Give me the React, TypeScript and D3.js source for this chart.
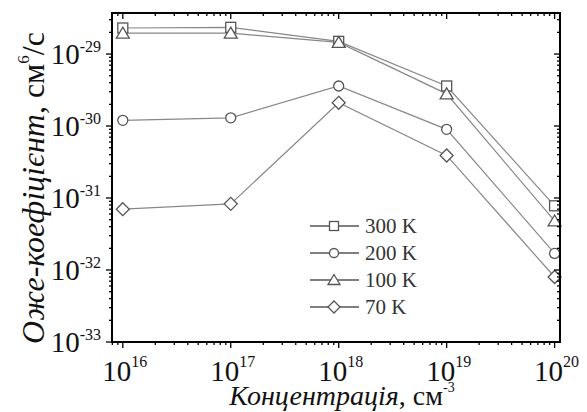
import React, { useEffect, useRef } from 'react';
import * as d3 from 'd3';

// concentration, cm^-3
const concentrations = [1e16, 1e17, 1e18, 1e19, 1e20];
// Auger coefficient, cm^6/s
const k300 = [2.3e-29, 2.35e-29, 1.5e-29, 3.6e-30, 7.8e-32];
const k200 = [1.2e-30, 1.3e-30, 3.6e-30, 9.0e-31, 1.7e-32];
const k100 = [1.95e-29, 1.95e-29, 1.45e-29, 2.8e-30, 4.8e-32];
const k70 = [7.0e-32, 8.3e-32, 2.1e-30, 3.9e-31, 8.0e-33];

const seriesNames = ['300 K', '200 K', '100 K', '70 K'];
const seriesMarks = ['square', 'circle', 'triangle', 'diamond'];
const xTickExp = [16, 17, 18, 19, 20];
const yTickExp = [-33, -32, -31, -30, -29];

const App = () => {
    const svgRef = useRef(null);

    useEffect(() => {
        const svg = d3.select(svgRef.current);
        svg.selectAll('*').remove();

        const left = 112, right = 560, top = 13, bottom = 342;
        const font = '"Liberation Serif", "Times New Roman", serif';

        const x = d3.scaleLog().domain([Math.pow(10, 15.9), Math.pow(10, 20.05)]).range([left, right]);
        const y = d3.scaleLog().domain([1e-33, Math.pow(10, -28.43)]).range([bottom, top]);

        const allSeries = [k300, k200, k100, k70];

        //draw a marker of the given kind
        const marker = (g, kind, cx, cy, s) => {
            let el;
            if (kind === 'square') {
                el = g.append('rect').attr('x', cx - s).attr('y', cy - s).attr('width', 2 * s).attr('height', 2 * s);
            } else if (kind === 'circle') {
                el = g.append('circle').attr('cx', cx).attr('cy', cy).attr('r', s);
            } else if (kind === 'triangle') {
                el = g.append('path').attr('d', `M${cx},${cy - s - 1}L${cx + s + 1.5},${cy + s}L${cx - s - 1.5},${cy + s}Z`);
            } else {
                el = g.append('path').attr('d', `M${cx},${cy - s - 1.5}L${cx + s + 1.5},${cy}L${cx},${cy + s + 1.5}L${cx - s - 1.5},${cy}Z`);
            }
            el.attr('stroke', '#555').attr('fill', '#fff').attr('stroke-width', 1.3);
        };

        //lines
        const line = d3.line().x((d, i) => x(concentrations[i])).y(d => y(d));
        allSeries.forEach(vals => {
            svg.append('path')
                .attr('d', line(vals))
                .attr('fill', 'none')
                .attr('stroke', '#888')
                .attr('stroke-width', 1.2);
        });
        allSeries.forEach((vals, si) => {
            const g = svg.append('g');
            vals.forEach((v, i) => marker(g, seriesMarks[si], x(concentrations[i]), y(v), 5));
        });

        //axes frame
        const axes = svg.append('g').attr('stroke', '#000').attr('fill', 'none');
        axes.append('rect')
            .attr('x', left).attr('y', top)
            .attr('width', right - left).attr('height', bottom - top)
            .attr('stroke-width', 2);

        //x ticks
        for (let e = 15; e <= 20; e++) {
            for (let m = 1; m <= 9; m++) {
                const v = m * Math.pow(10, e);
                const px = x(v);
                if (px < left || px > right) continue;
                const len = m === 1 ? 6 : 3;
                axes.append('line').attr('x1', px).attr('x2', px).attr('y1', bottom).attr('y2', bottom + len).attr('stroke-width', 1.3);
                axes.append('line').attr('x1', px).attr('x2', px).attr('y1', top).attr('y2', top + len).attr('stroke-width', 1.3);
            }
        }
        //y ticks
        for (let e = -34; e <= -29; e++) {
            for (let m = 1; m <= 9; m++) {
                const v = m * Math.pow(10, e);
                const py = y(v);
                if (py < top || py > bottom) continue;
                const len = m === 1 ? 6 : 3;
                axes.append('line').attr('y1', py).attr('y2', py).attr('x1', left).attr('x2', left - len).attr('stroke-width', 1.3);
                axes.append('line').attr('y1', py).attr('y2', py).attr('x1', right).attr('x2', right - len).attr('stroke-width', 1.3);
            }
        }

        //x tick labels
        xTickExp.forEach(e => {
            const t = svg.append('text')
                .attr('x', x(Math.pow(10, e)) + 2)
                .attr('y', 381)
                .attr('text-anchor', 'middle')
                .attr('font-family', font)
                .attr('fill', '#111');
            t.append('tspan').attr('font-size', 29).text('10');
            t.append('tspan').attr('font-size', 16).attr('dy', -14).text(String(e));
        });

        //y tick labels
        yTickExp.forEach(e => {
            const t = svg.append('text')
                .attr('x', 101)
                .attr('y', y(Math.pow(10, e)) + 10)
                .attr('text-anchor', 'end')
                .attr('font-family', font)
                .attr('fill', '#111');
            t.append('tspan').attr('font-size', 29).text('10');
            t.append('tspan').attr('font-size', 16).attr('dy', -12).text(String(e));
        });

        //x axis label
        const xl = svg.append('text')
            .attr('x', 342).attr('y', 405)
            .attr('text-anchor', 'middle')
            .attr('font-family', font)
            .attr('font-size', 28)
            .attr('fill', '#111');
        xl.append('tspan').attr('font-style', 'italic').text('Концентрація');
        xl.append('tspan').text(', см');
        xl.append('tspan').attr('font-size', 14).attr('dy', -13).text('-3');

        //y axis label
        const yl = svg.append('text')
            .attr('transform', 'translate(44,188) rotate(-90)')
            .attr('text-anchor', 'middle')
            .attr('font-family', font)
            .attr('font-size', 32)
            .attr('fill', '#111');
        yl.append('tspan').attr('font-style', 'italic').text('Оже-коефіцієнт');
        yl.append('tspan').text(', см');
        yl.append('tspan').attr('font-size', 17).attr('dy', -15).text('6');
        yl.append('tspan').attr('dy', 15).text('/с');

        //legend
        seriesNames.forEach((name, i) => {
            const ly = 226 + i * 27;
            const g = svg.append('g');
            g.append('line').attr('x1', 310).attr('x2', 359).attr('y1', ly).attr('y2', ly).attr('stroke', '#555').attr('stroke-width', 1.3);
            marker(g, seriesMarks[i], 334, ly, 4.5);
            g.append('text')
                .attr('x', 365).attr('y', ly + 7)
                .attr('font-family', font)
                .attr('font-size', 21)
                .attr('fill', '#333')
                .text(name);
        });
    }, []);

    return (
        <svg ref={svgRef} width={587} height={412}
            style={{ position: 'absolute', left: 0, top: 0, background: '#fff' }}></svg>
    );
};

export default App;
